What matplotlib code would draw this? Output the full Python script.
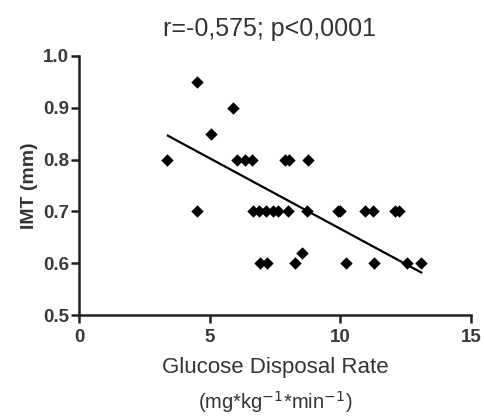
import matplotlib
matplotlib.use("Agg")
import matplotlib.pyplot as plt

plt.rcParams['font.family'] = ['Liberation Sans', 'DejaVu Sans']

# Data
gdr = [3.37, 6.05, 6.36, 6.63, 7.90, 8.05, 8.75,
       4.52,
       4.52, 6.67, 6.90, 7.16, 7.43, 7.62, 8.00, 8.74, 9.90, 10.00, 10.96, 11.26, 12.10, 12.25,
       5.06,
       5.90,
       6.93, 7.20, 8.28, 10.20, 11.30, 12.57, 13.07,
       8.54]
imt = [0.80, 0.80, 0.80, 0.80, 0.80, 0.80, 0.80,
       0.95,
       0.70, 0.70, 0.70, 0.70, 0.70, 0.70, 0.70, 0.70, 0.70, 0.70, 0.70, 0.70, 0.70, 0.70,
       0.85,
       0.90,
       0.60, 0.60, 0.60, 0.60, 0.60, 0.60, 0.60,
       0.62]
fit_x = [3.40, 13.10]
fit_y = [0.846, 0.582]

x_ticks = [0, 5, 10, 15]
y_ticks = [0.5, 0.6, 0.7, 0.8, 0.9, 1.0]
title = "r=-0,575; p<0,0001"

fig = plt.figure(figsize=(4.85, 4.2), dpi=100)
ax = fig.add_axes([0.163, 0.25, 0.808, 0.617])

ax.scatter(gdr, imt, marker='D', s=40, color='black', zorder=3, linewidths=0)
ax.plot(fit_x, fit_y, color='black', linewidth=1.6, zorder=2)

ax.set_xlim(0, 15)
ax.set_ylim(0.5, 1.0)
ax.set_xticks(x_ticks)
ax.set_xticklabels([str(t) for t in x_ticks])
ax.set_yticks(y_ticks)
ax.set_yticklabels([f"{t:.1f}" for t in y_ticks])

for s in ['top', 'right']:
    ax.spines[s].set_visible(False)
for s in ['left', 'bottom']:
    ax.spines[s].set_linewidth(1.8)
    ax.spines[s].set_color('#222222')

ax.tick_params(axis='both', direction='out', length=6, width=1.8, color='#222222',
               labelsize=13.5, labelcolor='#3a3a3a')
ax.tick_params(axis='x', pad=4)
ax.tick_params(axis='y', pad=1)
for lab in ax.get_xticklabels() + ax.get_yticklabels():
    lab.set_fontweight('bold')

ax.set_title(title, fontsize=18, color='#333333', pad=14, x=0.485)
ax.set_ylabel("IMT (mm)", fontsize=14, fontweight='bold', color='#333333', labelpad=4)
ax.set_xlabel("Glucose Disposal Rate", fontsize=16, color='#333333', labelpad=8)
ax.annotate("(mg*kg$^{-1}$*min$^{-1}$)", xy=(0.5, 0), xycoords='axes fraction',
            xytext=(0, -53), textcoords='offset points', ha='center', va='top',
            fontsize=14.5, color='#333333')

fig.savefig("out.png", dpi=100)
